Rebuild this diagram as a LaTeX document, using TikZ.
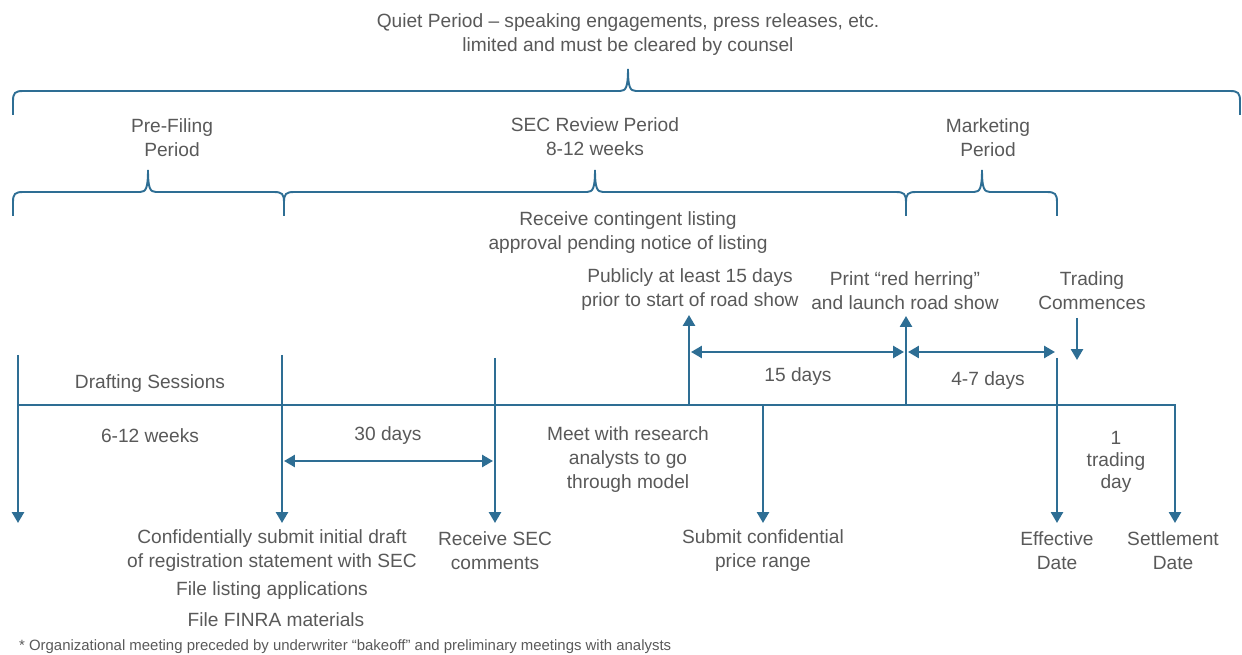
\documentclass[tikz,border=0pt]{standalone}
\usepackage{fontspec}
\setmainfont{Liberation Sans}
\usetikzlibrary{positioning, arrows.meta}
\definecolor{lineblue}{RGB}{46,110,148}
\definecolor{textgray}{RGB}{89,89,89}
\tikzstyle{txt} = [align=center, text=textgray, font=\fontsize{10.9}{14}\selectfont, inner sep=1pt, yshift=-1.4pt]
\tikzstyle{brace} = [draw=lineblue, line width=1.1pt]
\tikzstyle{timeline} = [draw=lineblue, line width=1.4pt]
\tikzstyle{arrow} = [timeline, -{Triangle[width=6.8pt,length=6.2pt]}]
\tikzstyle{twoway} = [timeline, {Triangle[width=6.8pt,length=6.2pt]}-{Triangle[width=6.8pt,length=6.2pt]}]
% brace: left x, right x, tip x, line y
\newcommand{\periodbrace}[4]{%
  \draw[brace] (#1,#4+24) -- (#1,#4+10) .. controls (#1,#4+2) and (#1+2,#4) .. (#1+10,#4)
    -- (#3-8,#4) .. controls (#3-2,#4) and (#3,#4-4) .. (#3,#4-22)
    .. controls (#3,#4-4) and (#3+2,#4) .. (#3+8,#4)
    -- (#2-10,#4) .. controls (#2-2,#4) and (#2,#4+2) .. (#2,#4+10) -- (#2,#4+24);}

\begin{document}
\begin{tikzpicture}[x=0.02cm, y=-0.02cm, line join=miter]
		\useasboundingbox (0,0) rectangle (1242,655);
		%period labels
		\node (quiet) [txt] at (628,32) {Quiet Period -- speaking engagements, press releases, etc.\\limited and must be cleared by counsel};
		\node (prefiling) [txt] at (172,135) {Pre-Filing\\Period};
		\node (secreview) [txt] at (595,134) {SEC Review Period\\8-12 weeks};
		\node (marketing) [txt] at (988,135) {Marketing\\Period};
		
		%braces
		\periodbrace{13}{1240}{628}{91}
		\periodbrace{13}{284}{148}{192}
		\periodbrace{284}{906}{595}{192}
		\periodbrace{906}{1057}{982}{192}
		
		%events above the timeline
		\node (contingent) [txt] at (628,230) {Receive contingent listing\\approval pending notice of listing};
		\node (publicly) [txt] at (690,287) {Publicly at least 15 days\\prior to start of road show};
		\node (redherring) [txt] at (905,288) {Print “red herring”\\and launch road show};
		\node (trading) [txt] at (1092,288) {Trading\\Commences};
		
		%spans on the timeline
		\node (drafting) [txt] at (150,381) {Drafting Sessions};
		\node (weeks) [txt] at (150,433) {6-12 weeks};
		\node (thirty) [txt] at (388,433) {30 days};
		\node (fifteen) [txt] at (798,374) {15 days};
		\node (fourseven) [txt] at (988,378) {4-7 days};
		\node (meet) [txt, font=\fontsize{10.9}{13.7}\selectfont] at (628,457) {Meet with research\\analysts to go\\through model};
		\node (oneday) [txt, font=\fontsize{10.9}{12.5}\selectfont] at (1116,459) {1\\trading\\day};
		
		%events below the timeline
		\node (confsubmit) [txt] at (272,548) {Confidentially submit initial draft\\of registration statement with SEC};
		\node (filelisting) [txt] at (272,588) {File listing applications};
		\node (finra) [txt] at (276,617) {File FINRA materials};
		\node (seccomments) [txt] at (495,548) {Receive SEC\\comments};
		\node (pricerange) [txt] at (763,548) {Submit confidential\\price range};
		\node (effective) [txt] at (1057,548) {Effective\\Date};
		\node (settlement) [txt] at (1173,548) {Settlement\\Date};
		\node (note) [txt, anchor=west, font=\fontsize{8.5}{10}\selectfont] at (17,644) {* Organizational meeting preceded by underwriter “bakeoff” and preliminary meetings with analysts};
		
		%timeline points
		\coordinate (start) at (18,405);
		\coordinate (settleup) at (1175,405);
		\coordinate (settledown) at (1175,523);
		\coordinate (orgtop) at (18,355);
		\coordinate (orgbot) at (18,523);
		\coordinate (subtop) at (282,355);
		\coordinate (subbot) at (282,523);
		\coordinate (commtop) at (495,358);
		\coordinate (commbot) at (495,523);
		\coordinate (pubbase) at (689,405);
		\coordinate (pubtip) at (689,315);
		\coordinate (pricetop) at (763,405);
		\coordinate (pricebot) at (763,523);
		\coordinate (rhbase) at (906,405);
		\coordinate (rhtip) at (906,316);
		\coordinate (efftop) at (1057,358);
		\coordinate (effbot) at (1057,523);
		\coordinate (tradetop) at (1077,318);
		\coordinate (tradebot) at (1077,360);
		
		%draw the timeline and arrows
		\draw [arrow] (start) -- (settleup) -- (settledown);
		\draw [arrow] (orgtop) -- (orgbot);
		\draw [arrow] (subtop) -- (subbot);
		\draw [arrow] (commtop) -- (commbot);
		\draw [arrow] (pubbase) -- (pubtip);
		\draw [arrow] (pricetop) -- (pricebot);
		\draw [arrow] (rhbase) -- (rhtip);
		\draw [arrow] (efftop) -- (effbot);
		\draw [arrow] (tradetop) -- (tradebot);
		
		%durations
		\draw [twoway] (284,461) -- (493,461);
		\draw [twoway] (691,352) -- (904,352);
		\draw [twoway] (908,352) -- (1055,352);
	\end{tikzpicture}
\end{document}
